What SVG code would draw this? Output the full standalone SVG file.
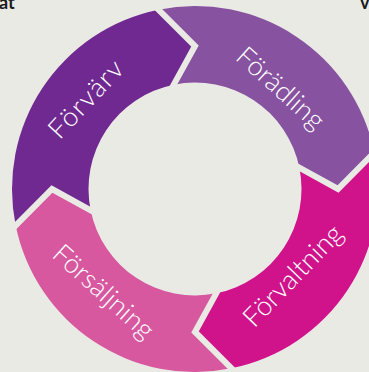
<svg xmlns="http://www.w3.org/2000/svg" width="369" height="372" viewBox="0 0 369 372">
  <style>
    .bg { fill: #eaeae5; }
    .gap { fill: none; stroke: #eaeae5; stroke-width: 6; stroke-linejoin: miter; stroke-miterlimit: 10; }
    .label { font-family: Lato, "Open Sans", "DejaVu Sans", sans-serif; font-size: 27px; font-weight: 300; fill: #ffffff; text-anchor: middle; }
    .edge-text { font-family: Lato, "Liberation Sans", sans-serif; font-size: 18px; font-weight: bold; fill: #1c1c1c; }
  </style>

  <rect class="bg" x="0" y="0" width="369" height="372"/>

  <!-- fragments of surrounding page text -->
  <text class="edge-text" x="-1" y="9">at</text>
  <text class="edge-text" x="360" y="9">v</text>

  <!-- ring centred at (195,189), outer r 183, inner r 106.5; chevron tips at r 143 -->
  <g id="forvarv">
    <path fill="#702990" d="M15.67,225.48 A183,183 0 0 1 158.52,9.67 L195,46 L173.77,84.64 A106.5,106.5 0 0 0 90.64,210.23 L52,189 Z"/>
    <text class="label" transform="translate(92.6,105.5) rotate(-47)" textLength="96" lengthAdjust="spacing">Förvärv</text>
  </g>

  <g id="foradling">
    <path fill="#8752a0" d="M158.52,9.67 A183,183 0 0 1 374.33,152.52 L338,189 L299.36,167.77 A106.5,106.5 0 0 0 173.77,84.64 L195,46 Z"/>
    <text class="label" transform="translate(274.5,95) rotate(42)" textLength="108" lengthAdjust="spacing">Förädling</text>
  </g>

  <g id="forvaltning">
    <path fill="#d0138b" d="M374.33,152.52 A183,183 0 0 1 231.48,368.33 L195,332 L216.23,293.36 A106.5,106.5 0 0 0 299.36,167.77 L338,189 Z"/>
    <text class="label" transform="translate(299.5,282) rotate(-46)" textLength="130" lengthAdjust="spacing">Förvaltning</text>
  </g>

  <g id="forsaljning">
    <path fill="#d7589f" d="M231.48,368.33 A183,183 0 0 1 15.67,225.48 L52,189 L90.64,210.23 A106.5,106.5 0 0 0 216.23,293.36 L195,332 Z"/>
    <text class="label" transform="translate(97.5,298.5) rotate(42)" textLength="126" lengthAdjust="spacing">Försäljning</text>
  </g>

  <!-- light chevron gaps between the segments -->
  <g id="gaps">
    <polyline class="gap" points="151.44,2.62 195,46 168.95,93.40"/>
    <polyline class="gap" points="381.38,145.44 338,189 290.60,162.95"/>
    <polyline class="gap" points="238.56,375.38 195,332 221.05,284.60"/>
    <polyline class="gap" points="8.62,232.56 52,189 99.40,215.05"/>
  </g>
</svg>
